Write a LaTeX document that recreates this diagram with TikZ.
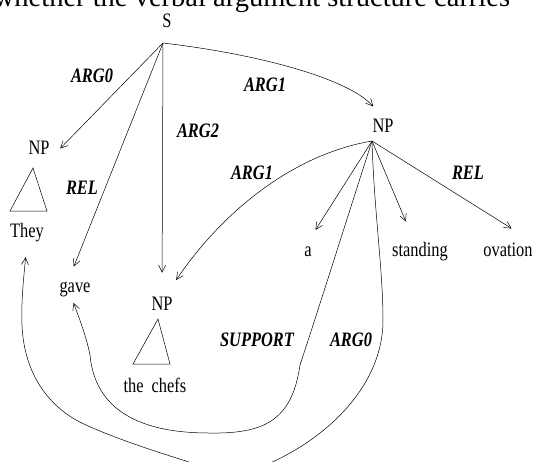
\documentclass[tikz,border=0pt]{standalone}
\usepackage{fontspec}
\setmainfont{Liberation Serif}[FakeStretch=0.8]
\newfontfamily\headfont{Liberation Serif}
\usepackage{tikz}
\usetikzlibrary{arrows.meta, positioning, calc}

\begin{document}
\begin{tikzpicture}[x=1pt, y=-1pt, line width=0.5pt,
    every node/.style={font=\fontsize{20.5}{24}\selectfont, inner sep=0pt, text height=14pt, text depth=5pt, anchor=base},
    lbl/.style={font=\fontsize{20.5}{24}\selectfont\bfseries\itshape},
    arr/.style={-{Straight Barb[length=7pt,width=7pt]}}]
    \useasboundingbox (0,0) rectangle (536,461);
    \clip (0,0) rectangle (536,461);

    % 顶部被截断的正文
    \node[font=\headfont\fontsize{28.5}{32}\selectfont] (head) at (252,6) {whether the verbal argument structure carries};

    % 节点
    \node (S) at (167,27) {S};
    \coordinate (sO) at (163,43);
    \node (npR) at (383,132) {NP};
    \coordinate (npO) at (372,141);
    \node (npL) at (39,154) {NP};
    \node (they) at (27,237) {They};
    \node (gave) at (75,292) {gave};
    \node (npM) at (162,310) {NP};
    \node (chefs) at (155,392) {the\hspace{8pt}chefs};
    \node (a) at (308,256) {a};
    \node (standing) at (420,256) {standing};
    \node (ovation) at (508,256) {ovation};

    % 三角形
    \draw (33,168) -- (10,211) -- (47,211) -- cycle;
    \draw (158,319) -- (133,364) -- (170,364) -- cycle;

    % S 的论元
    \draw[arr, shorten >=15pt] (sO) -- (npL.south east);
    \draw[arr, shorten >=12pt] (sO) -- (gave.120);
    \draw[arr, shorten >=23pt] (sO) -- (npM.north);
    \draw[arr, shorten >=15pt] (sO) .. controls (265,55) and (350,80) .. (npR.north);

    % NP 的论元
    \draw[arr, shorten >=19pt] (npO) .. controls (290,155) and (220,215) .. (npM.70);
    \draw[arr, shorten >=14pt] (npO) -- (a.north);
    \draw[arr, shorten >=22pt] (npO) -- (standing.120);
    \draw[arr, shorten >=25pt] (npO) -- (ovation.north east);
    \draw[arr, shorten >=6pt] (npO) .. controls (345,225) and (315,320) .. (300,365)
        .. controls (292,420) and (265,434) .. (209,433)
        .. controls (140,433) and (95,410) .. (90,355)
        .. controls (86,335) and (78,315) .. (gave.250);
    \draw[arr, shorten >=15pt] (npO) .. controls (374,210) and (383,270) .. (383,320)
        .. controls (383,400) and (300,460) .. (232,476)
        .. controls (185,460) and (130,445) .. (86,425)
        .. controls (50,409) and (24,375) .. (22,325)
        .. controls (21,300) and (24,275) .. (they.south);

    % 标签
    \node[lbl] (lArgZero) at (92,82) {ARG0};
    \node[lbl] (lArgOne) at (265,91) {ARG1};
    \node[lbl] (lArgTwo) at (198,137) {ARG2};
    \node[lbl] (lRel) at (82,194) {REL};
    \node[lbl] (lArgOneB) at (252,179) {ARG1};
    \node[lbl] (lRelB) at (468,179) {REL};
    \node[lbl] (lSupport) at (257,346) {SUPPORT};
    \node[lbl] (lArgZeroB) at (351,346) {ARG0};
\end{tikzpicture}
\end{document}
